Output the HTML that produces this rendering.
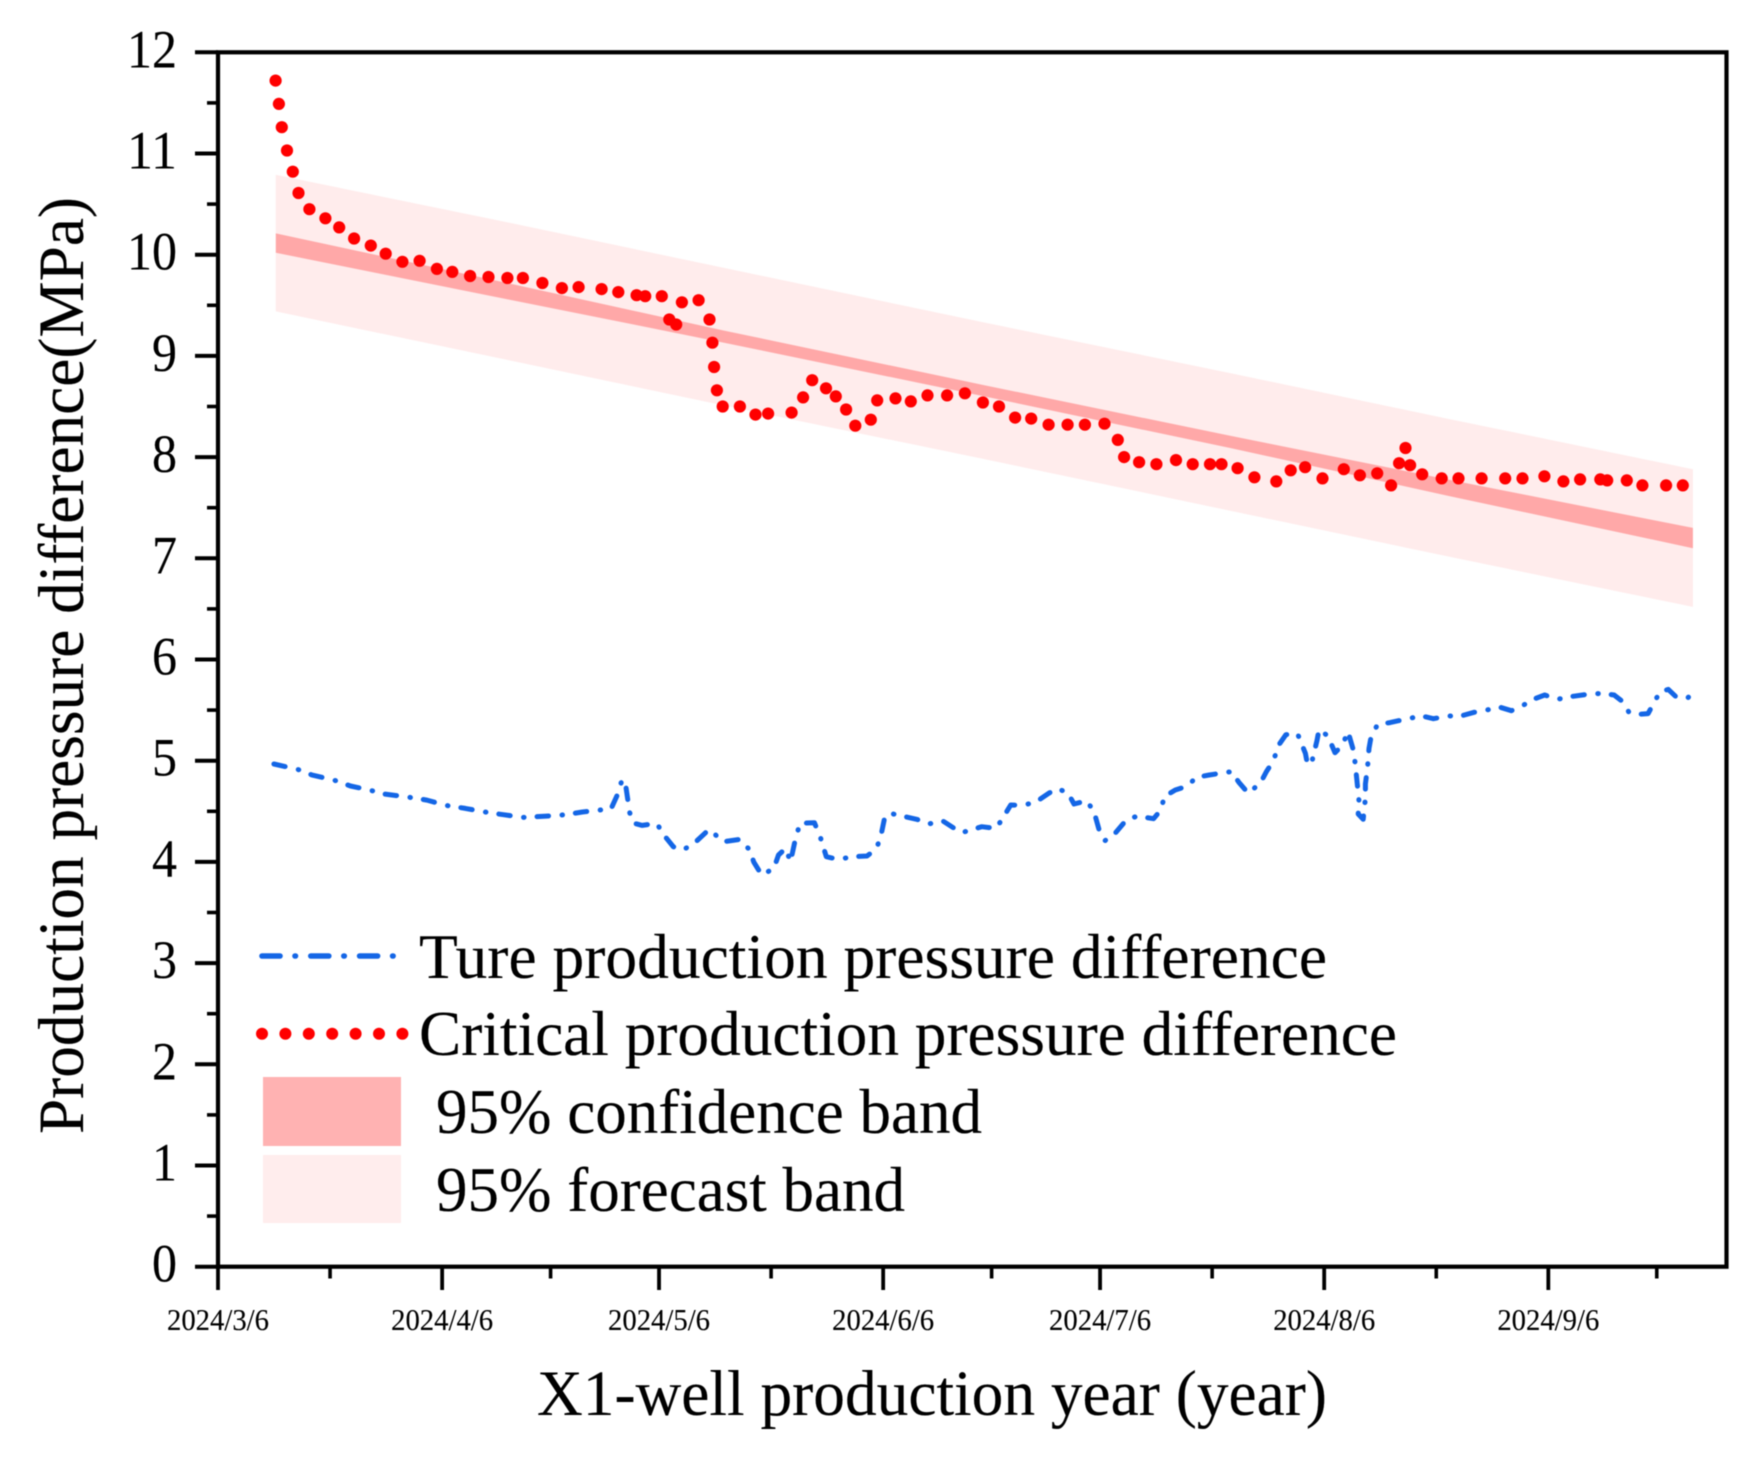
<!DOCTYPE html>
<html lang="en">
<head>
<meta charset="utf-8">
<title>X1-well production pressure difference</title>
<style>
html,body{margin:0;padding:0;background:#fff;}
svg{display:block;filter:blur(0.6px);}
text{font-family:"Liberation Serif","Times New Roman",serif;fill:#000;stroke:#000;stroke-width:0.12px;}
</style>
</head>
<body>
<svg id="chart" xmlns="http://www.w3.org/2000/svg" width="1764" height="1462" viewBox="0 0 1764 1462">
  <rect x="0" y="0" width="1764" height="1462" fill="#fff"/>
  <g id="bands"></g>
  <g id="true-series"></g>
  <g id="critical-series"></g>
  <g id="axes"></g>
  <text transform="translate(83,1134) rotate(-90)" font-size="65" textLength="937" lengthAdjust="spacingAndGlyphs">Production pressure difference(MPa)</text>
  <text x="537" y="1415" font-size="65" textLength="790" lengthAdjust="spacingAndGlyphs">X1-well production year (year)</text>
  <g id="legend">
    <line x1="262" y1="956" x2="394" y2="956" stroke="#1466e6" stroke-width="5.6" stroke-linecap="round" stroke-dasharray="18 15 0.5 15.3"/>
    <text x="419" y="978" font-size="63" textLength="908" lengthAdjust="spacingAndGlyphs">Ture production pressure difference</text>
    <g id="legend-dots"></g>
    <text x="419" y="1055" font-size="63" textLength="978" lengthAdjust="spacingAndGlyphs">Critical production pressure difference</text>
    <rect x="263" y="1077" width="138" height="69" fill="#ffb2b2"/>
    <text x="436" y="1133" font-size="63" textLength="546" lengthAdjust="spacingAndGlyphs">95% confidence band</text>
    <rect x="263" y="1155" width="138" height="68" fill="#ffeded"/>
    <text x="436" y="1211" font-size="63" textLength="469" lengthAdjust="spacingAndGlyphs">95% forecast band</text>
  </g>
</svg>
<script>
const xTickLabels = ['2024/3/6','2024/4/6','2024/5/6','2024/6/6','2024/7/6','2024/8/6','2024/9/6'];
const yTickLabels = ['0','1','2','3','4','5','6','7','8','9','10','11','12'];

const bandDays = [8,40,70,106,140,170,204];
const confidenceUpper = [10.21,9.72,9.25,8.71,8.21,7.78,7.30];
const confidenceLower = [10.02,9.56,9.13,8.60,8.09,7.62,7.10];
const forecastUpper = [10.79,10.32,9.87,9.33,8.83,8.38,7.88];
const forecastLower = [9.44,8.96,8.51,7.98,7.47,7.02,6.52];

const criticalDays = [7.96,8.43,8.83,9.54,10.34,11.13,12.64,14.86,16.77,18.83,21.14,23.2,25.5,27.89,30.27,32.41,34.87,37.41,40.03,42.17,44.87,47.57,49.88,53.05,55.36,57.9,59.09,61.39,62.42,63.37,64.17,66.47,67.98,68.38,68.62,69.01,69.81,72.19,74.34,76.08,79.34,80.93,82.19,84.1,85.45,86.88,88.15,90.29,91.17,93.71,95.82,98.13,100.84,103.31,105.79,108.02,110.25,112.48,114.88,117.51,119.9,122.61,124.45,125.32,127.4,129.79,132.5,134.81,137.21,138.8,141.03,143.35,146.38,148.37,150.36,152.76,155.71,157.94,160.33,162.25,163.36,164.24,164.88,166.55,169.26,171.58,174.77,178.04,180.43,183.46,186.09,188.4,191.19,192.15,194.86,197.01,200.29,202.6];
const criticalValues = [11.72,11.49,11.26,11.03,10.82,10.61,10.45,10.36,10.27,10.16,10.09,10.01,9.93,9.94,9.86,9.83,9.79,9.78,9.77,9.77,9.72,9.67,9.68,9.66,9.63,9.6,9.59,9.59,9.36,9.31,9.53,9.55,9.36,9.13,8.89,8.66,8.5,8.5,8.42,8.43,8.44,8.59,8.76,8.68,8.6,8.47,8.31,8.37,8.56,8.58,8.55,8.61,8.61,8.63,8.54,8.5,8.39,8.38,8.32,8.32,8.32,8.33,8.17,8.0,7.95,7.93,7.97,7.93,7.93,7.93,7.89,7.8,7.76,7.87,7.9,7.79,7.88,7.82,7.84,7.72,7.94,8.09,7.92,7.83,7.79,7.79,7.79,7.79,7.79,7.81,7.76,7.78,7.78,7.77,7.77,7.72,7.72,7.72];

const trueDays = [7.73,11.04,13.03,16,18.32,20.96,22.95,25.93,28.9,31.55,34.2,37.5,39.49,42.13,45.44,48.09,50.4,52.72,54.37,55.23,55.9,56.42,56.95,57.55,58.67,60.66,61.85,62.97,64.3,65.95,67.93,69.92,72.23,73.56,74.09,75.21,76.87,77.53,78.52,79.18,79.84,80.5,82.49,83.35,84.14,85.8,87.78,89.77,91.09,91.75,92.28,93.4,96.71,98.1,100.35,102.8,105.64,107.63,108.5,109.64,111.4,113.2,114.9,116.1,117.6,118.4,120.2,121.2,122,122.7,124,125.7,127.2,129.4,130.4,130.9,132.4,134.1,135.3,137.1,140.2,141.2,142.5,144.2,145,145.9,146.8,147.7,149.3,150.4,150.7,151.3,152,152.3,153.5,154.5,155.5,156.3,157.1,157.3,157.5,157.8,157.7,158.4,158.7,158.7,159,159.2,159.5,160.4,162.1,164.8,166.5,168.1,170.2,171.9,173.9,175.9,177.4,178.9,180.6,181.9,183.5,185.2,187.1,189,191.4,193.1,194.3,195.1,196.4,197.8,198.8,199.5,200.6,201.8,203.3,204.2];
const trueValues = [4.967,4.914,4.858,4.809,4.75,4.71,4.671,4.644,4.611,4.558,4.529,4.486,4.466,4.44,4.453,4.466,4.493,4.512,4.526,4.661,4.815,4.743,4.486,4.381,4.361,4.381,4.249,4.15,4.117,4.19,4.321,4.2,4.223,4.117,4,3.87,3.936,4.068,4.134,4.002,4.216,4.381,4.387,4.236,4.051,4.025,4.051,4.058,4.13,4.282,4.463,4.473,4.42,4.374,4.4,4.288,4.348,4.331,4.43,4.562,4.559,4.595,4.678,4.727,4.678,4.572,4.605,4.486,4.282,4.21,4.276,4.42,4.453,4.427,4.513,4.645,4.71,4.75,4.836,4.859,4.892,4.786,4.678,4.783,4.892,4.99,5.165,5.257,5.27,5.073,4.958,4.99,5.2,5.31,5.244,5.079,5.152,5.287,5.09,4.958,4.826,4.612,4.473,4.421,4.628,4.77,4.941,5.122,5.244,5.359,5.376,5.419,5.442,5.415,5.442,5.442,5.481,5.507,5.527,5.494,5.55,5.606,5.649,5.606,5.633,5.652,5.666,5.649,5.583,5.484,5.458,5.465,5.6,5.682,5.705,5.623,5.623,5.682];

const NS = 'http://www.w3.org/2000/svg';
const plotLeft = 218, plotRight = 1726.5, plotTop = 52.3, plotBottom = 1266.7;
const pxPerDay = 7.23;
const firstDate = Date.UTC(2024, 2, 6);

function xScale(day) { return plotLeft + day * pxPerDay; }
function yScale(value) { return plotBottom - value * (plotBottom - plotTop) / 12; }
function labelToDay(label) {
  const p = label.split('/').map(Number);
  return (Date.UTC(p[0], p[1] - 1, p[2]) - firstDate) / 86400000;
}
function make(tag, parent) {
  const el = document.createElementNS(NS, tag);
  parent.appendChild(el);
  return el;
}
function bandPoints(days, upper, lower) {
  const top = days.map((d, i) => xScale(d).toFixed(1) + ',' + yScale(upper[i]).toFixed(1));
  const bottom = days.map((d, i) => xScale(d).toFixed(1) + ',' + yScale(lower[i]).toFixed(1)).reverse();
  return top.concat(bottom).join(' ');
}
function tickLine(parent, x1, y1, x2, y2, w) {
  const t = make('line', parent);
  t.setAttribute('x1', x1); t.setAttribute('y1', y1);
  t.setAttribute('x2', x2); t.setAttribute('y2', y2);
  t.setAttribute('stroke', '#000'); t.setAttribute('stroke-width', w);
  return t;
}

/* bands */
const bandsG = document.getElementById('bands');
const forecastBand = make('polygon', bandsG);


forecastBand.setAttribute('points', bandPoints(bandDays, forecastUpper, forecastLower));
forecastBand.setAttribute('fill', '#ffecec');
const confidenceBand = make('polygon', bandsG);


confidenceBand.setAttribute('points', bandPoints(bandDays, confidenceUpper, confidenceLower));
confidenceBand.setAttribute('fill', '#ffa8a8');

/* true production pressure difference */
const trueLine = make('polyline', document.getElementById('true-series'));


trueLine.setAttribute('points', trueDays.map((d, i) => xScale(d).toFixed(1) + ',' + yScale(trueValues[i]).toFixed(1)).join(' '));
trueLine.setAttribute('fill', 'none');
trueLine.setAttribute('stroke', '#1466e6');
trueLine.setAttribute('stroke-width', '5');
trueLine.setAttribute('stroke-linecap', 'round');
trueLine.setAttribute('stroke-linejoin', 'round');
trueLine.setAttribute('stroke-dasharray', '11.5 13.5 0.5 13');

/* critical production pressure difference */
const critG = document.getElementById('critical-series');
criticalDays.forEach((d, i) => {
  const dot = make('circle', critG);
  
  
  dot.setAttribute('cx', xScale(d).toFixed(1));
  dot.setAttribute('cy', yScale(criticalValues[i]).toFixed(1));
  dot.setAttribute('r', '6.1');
  dot.setAttribute('fill', '#ff0000');
});

/* axes */
const axesG = document.getElementById('axes');
const frame = make('rect', axesG);


frame.setAttribute('x', plotLeft);
frame.setAttribute('y', plotTop);
frame.setAttribute('width', plotRight - plotLeft);
frame.setAttribute('height', plotBottom - plotTop);
frame.setAttribute('fill', 'none');
frame.setAttribute('stroke', '#000');
frame.setAttribute('stroke-width', '4.2');

yTickLabels.forEach((label) => {
  const v = Number(label);
  const tick = tickLine(axesG, 195, yScale(v), plotLeft, yScale(v), 4);
  
  
  const txt = make('text', axesG);
  
  
  txt.setAttribute('x', 177);
  txt.setAttribute('y', yScale(v) + 15);
  txt.setAttribute('text-anchor', 'end');
  txt.setAttribute('font-size', '54');
  txt.setAttribute('textLength', label.length * 25);
  txt.setAttribute('lengthAdjust', 'spacingAndGlyphs');
  txt.textContent = label;
  if (v < 12) {
    const minor = tickLine(axesG, 207, yScale(v + 0.5), plotLeft, yScale(v + 0.5), 3.6);
    
    
  }
});

xTickLabels.forEach((label, i) => {
  const day = labelToDay(label);
  const tick = tickLine(axesG, xScale(day), plotBottom, xScale(day), 1290, 3.8);
  
  
  const txt = make('text', axesG);
  
  
  txt.setAttribute('x', xScale(day));
  txt.setAttribute('y', 1330);
  txt.setAttribute('text-anchor', 'middle');
  txt.setAttribute('font-size', '31');
  txt.setAttribute('textLength', '102');
  txt.setAttribute('lengthAdjust', 'spacingAndGlyphs');
  txt.textContent = label;
  const nextDay = i + 1 < xTickLabels.length ? labelToDay(xTickLabels[i + 1]) : day + 30;
  const minor = tickLine(axesG, xScale((day + nextDay) / 2), plotBottom, xScale((day + nextDay) / 2), 1278.5, 3.6);
  
  
});

/* legend dots */
const legendDots = document.getElementById('legend-dots');
for (let i = 0; i < 7; i++) {
  const dot = make('circle', legendDots);
  
  
  dot.setAttribute('cx', 262 + i * 23.4);
  dot.setAttribute('cy', 1033.7);
  dot.setAttribute('r', '6');
  dot.setAttribute('fill', '#ff0000');
}
</script>
</body>
</html>
